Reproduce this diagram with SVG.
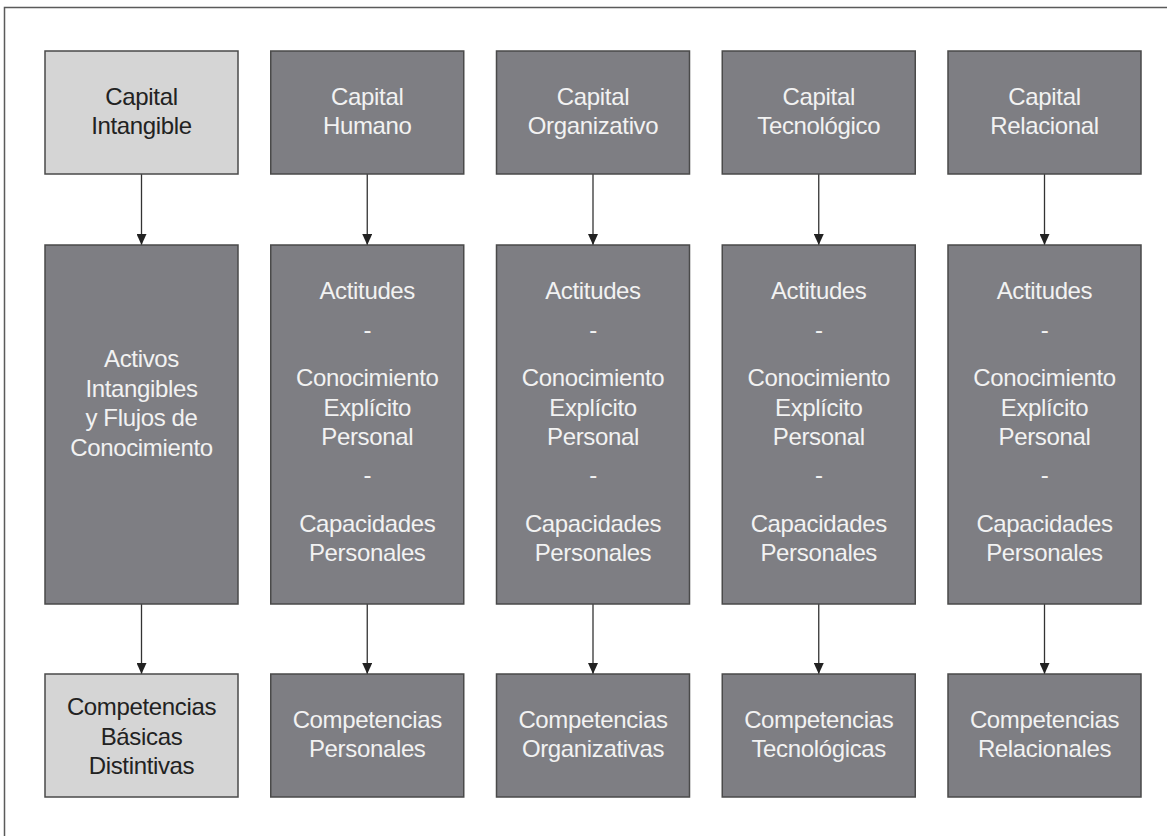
<svg xmlns="http://www.w3.org/2000/svg" width="1167" height="836" viewBox="0 0 1167 836">
<style>
  .frame { fill: none; stroke: #5a5a5a; stroke-width: 1.5; }
  .dark { fill: #7e7e83; stroke: #4a4a4a; stroke-width: 1.5; }
  .light { fill: #d5d5d5; stroke: #4a4a4a; stroke-width: 1.5; }
  text { font-family: "Liberation Sans", Arial, sans-serif; font-size: 24px; letter-spacing: -0.35px; text-anchor: middle; }
  .tw { fill: #f2f2f2; }
  .tb { fill: #222222; }
  .conn line { stroke: #333333; stroke-width: 1.3; }
</style>
<defs>
  <marker id="arr" viewBox="0 0 11 10" refX="11" refY="5" markerWidth="11" markerHeight="10" markerUnits="userSpaceOnUse" orient="auto">
    <path d="M0,0 L11,5 L0,10 Z" fill="#222222"/>
  </marker>
</defs>
<rect width="1167" height="836" fill="#ffffff"/>
<rect class="frame" x="4.5" y="7.5" width="1180" height="850"/>

<g class="conn">
  <line x1="141.5" y1="174" x2="141.5" y2="245" marker-end="url(#arr)"/>
  <line x1="141.5" y1="604" x2="141.5" y2="674" marker-end="url(#arr)"/>
  <line x1="367.25" y1="174" x2="367.25" y2="245" marker-end="url(#arr)"/>
  <line x1="367.25" y1="604" x2="367.25" y2="674" marker-end="url(#arr)"/>
  <line x1="593" y1="174" x2="593" y2="245" marker-end="url(#arr)"/>
  <line x1="593" y1="604" x2="593" y2="674" marker-end="url(#arr)"/>
  <line x1="818.75" y1="174" x2="818.75" y2="245" marker-end="url(#arr)"/>
  <line x1="818.75" y1="604" x2="818.75" y2="674" marker-end="url(#arr)"/>
  <line x1="1044.5" y1="174" x2="1044.5" y2="245" marker-end="url(#arr)"/>
  <line x1="1044.5" y1="604" x2="1044.5" y2="674" marker-end="url(#arr)"/>
</g>

<!-- Column 1 -->
<g id="capital-intangible">
  <rect class="light" x="45" y="51" width="193" height="123"/>
  <text class="tb" x="141.5" y="104.5">Capital</text>
  <text class="tb" x="141.5" y="134">Intangible</text>
</g>
<g id="activos-intangibles">
  <rect class="dark" x="45" y="245" width="193" height="359"/>
  <text class="tw" x="141.5" y="367">Activos</text>
  <text class="tw" x="141.5" y="396.5">Intangibles</text>
  <text class="tw" x="141.5" y="426">y Flujos de</text>
  <text class="tw" x="141.5" y="455.5">Conocimiento</text>
</g>
<g id="competencias-basicas">
  <rect class="light" x="45" y="674" width="193" height="123"/>
  <text class="tb" x="141.5" y="715">Competencias</text>
  <text class="tb" x="141.5" y="745">Básicas</text>
  <text class="tb" x="141.5" y="774">Distintivas</text>
</g>

<!-- Column 2 -->
<g id="capital-humano">
  <rect class="dark" x="270.75" y="51" width="193" height="123"/>
  <text class="tw" x="367.25" y="104.5">Capital</text>
  <text class="tw" x="367.25" y="134">Humano</text>
</g>
<g id="humano-detalle">
  <rect class="dark" x="270.75" y="245" width="193" height="359"/>
  <text class="tw" x="367.25" y="298.5">Actitudes</text>
  <text class="tw" x="367.25" y="338">-</text>
  <text class="tw" x="367.25" y="385.5">Conocimiento</text>
  <text class="tw" x="367.25" y="416">Explícito</text>
  <text class="tw" x="367.25" y="445">Personal</text>
  <text class="tw" x="367.25" y="483">-</text>
  <text class="tw" x="367.25" y="531.5">Capacidades</text>
  <text class="tw" x="367.25" y="560.5">Personales</text>
</g>
<g id="competencias-personales">
  <rect class="dark" x="270.75" y="674" width="193" height="123"/>
  <text class="tw" x="367.25" y="727.5">Competencias</text>
  <text class="tw" x="367.25" y="756.5">Personales</text>
</g>

<!-- Column 3 -->
<g id="capital-organizativo">
  <rect class="dark" x="496.5" y="51" width="193" height="123"/>
  <text class="tw" x="593" y="104.5">Capital</text>
  <text class="tw" x="593" y="134">Organizativo</text>
</g>
<g id="organizativo-detalle">
  <rect class="dark" x="496.5" y="245" width="193" height="359"/>
  <text class="tw" x="593" y="298.5">Actitudes</text>
  <text class="tw" x="593" y="338">-</text>
  <text class="tw" x="593" y="385.5">Conocimiento</text>
  <text class="tw" x="593" y="416">Explícito</text>
  <text class="tw" x="593" y="445">Personal</text>
  <text class="tw" x="593" y="483">-</text>
  <text class="tw" x="593" y="531.5">Capacidades</text>
  <text class="tw" x="593" y="560.5">Personales</text>
</g>
<g id="competencias-organizativas">
  <rect class="dark" x="496.5" y="674" width="193" height="123"/>
  <text class="tw" x="593" y="727.5">Competencias</text>
  <text class="tw" x="593" y="756.5">Organizativas</text>
</g>

<!-- Column 4 -->
<g id="capital-tecnologico">
  <rect class="dark" x="722.25" y="51" width="193" height="123"/>
  <text class="tw" x="818.75" y="104.5">Capital</text>
  <text class="tw" x="818.75" y="134">Tecnológico</text>
</g>
<g id="tecnologico-detalle">
  <rect class="dark" x="722.25" y="245" width="193" height="359"/>
  <text class="tw" x="818.75" y="298.5">Actitudes</text>
  <text class="tw" x="818.75" y="338">-</text>
  <text class="tw" x="818.75" y="385.5">Conocimiento</text>
  <text class="tw" x="818.75" y="416">Explícito</text>
  <text class="tw" x="818.75" y="445">Personal</text>
  <text class="tw" x="818.75" y="483">-</text>
  <text class="tw" x="818.75" y="531.5">Capacidades</text>
  <text class="tw" x="818.75" y="560.5">Personales</text>
</g>
<g id="competencias-tecnologicas">
  <rect class="dark" x="722.25" y="674" width="193" height="123"/>
  <text class="tw" x="818.75" y="727.5">Competencias</text>
  <text class="tw" x="818.75" y="756.5">Tecnológicas</text>
</g>

<!-- Column 5 -->
<g id="capital-relacional">
  <rect class="dark" x="948" y="51" width="193" height="123"/>
  <text class="tw" x="1044.5" y="104.5">Capital</text>
  <text class="tw" x="1044.5" y="134">Relacional</text>
</g>
<g id="relacional-detalle">
  <rect class="dark" x="948" y="245" width="193" height="359"/>
  <text class="tw" x="1044.5" y="298.5">Actitudes</text>
  <text class="tw" x="1044.5" y="338">-</text>
  <text class="tw" x="1044.5" y="385.5">Conocimiento</text>
  <text class="tw" x="1044.5" y="416">Explícito</text>
  <text class="tw" x="1044.5" y="445">Personal</text>
  <text class="tw" x="1044.5" y="483">-</text>
  <text class="tw" x="1044.5" y="531.5">Capacidades</text>
  <text class="tw" x="1044.5" y="560.5">Personales</text>
</g>
<g id="competencias-relacionales">
  <rect class="dark" x="948" y="674" width="193" height="123"/>
  <text class="tw" x="1044.5" y="727.5">Competencias</text>
  <text class="tw" x="1044.5" y="756.5">Relacionales</text>
</g>
</svg>
